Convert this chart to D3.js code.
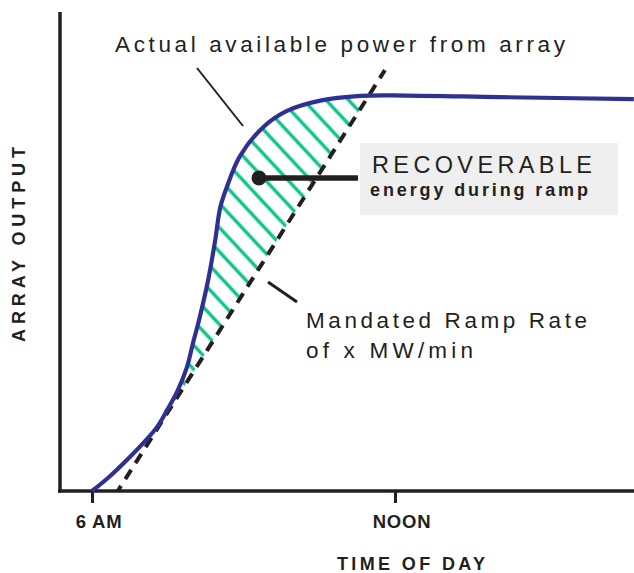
<!DOCTYPE html>
<html>
<head>
<meta charset="utf-8">
<script src="https://cdn.jsdelivr.net/npm/d3@7"></script>
<style>
  body { margin: 0; background: #fff; }
  svg { display: block; font-family: "Liberation Sans", Arial, sans-serif; }
</style>
</head>
<body>
<svg id="chart"></svg>
<script>
// actual available power from the array (hour of day, % output)
var hours  = [6, 6.36, 6.75, 7.05, 7.29, 7.49, 7.70, 7.88, 8.0, 8.12, 8.30, 8.44, 8.54, 8.67, 8.93, 9.39, 9.86, 10.52, 11.31, 12.2, 14.08, 16.73];
var output = [0, 3.8, 8.6, 12.6, 16.2, 20.5, 25.5, 31.3, 37.4, 43.2, 53.3, 63.4, 71.7, 76.8, 84.6, 91.9, 96.0, 98.6, 99.8, 99.9, 99.5, 99.0];

// mandated ramp rate line (start / end)
var rampHours  = [6.51, 11.80];
var rampOutput = [0, 106.3];

// tangent point where the ramp line meets the curve
var tangentOutput = 17;

var tickHours  = [6, 12];
var tickLabels = ["6 AM", "NOON"];

var w = 634, h = 573;

var svg = d3.select("#chart")
  .attr("width", w)
  .attr("height", h);

var xScale = d3.scaleLinear()
  .domain([5.366, 16.733])
  .range([60, 634]);

var yScale = d3.scaleLinear()
  .domain([0, 121])
  .range([491, 12]);

var curveData = hours.map(function(d, i) { return [d, output[i]]; });
var rampData = rampHours.map(function(d, i) { return [d, rampOutput[i]]; });

// where on the ramp line a given output sits
function rampHourAt(v) {
  var t = (v - rampOutput[0]) / (rampOutput[1] - rampOutput[0]);
  return rampHours[0] + t * (rampHours[1] - rampHours[0]);
}

var defs = svg.append("defs");

// hatch pattern
var pat = defs.append("pattern")
  .attr("id", "hatch")
  .attr("patternUnits", "userSpaceOnUse")
  .attr("width", 16.5)
  .attr("height", 16.5)
  .attr("patternTransform", "rotate(47) translate(0,3)");
pat.append("line")
  .attr("x1", -2).attr("y1", 8.25)
  .attr("x2", 19).attr("y2", 8.25)
  .attr("stroke", "#14c48e")
  .attr("stroke-width", 3.5);

// keep hatch on the upper-left side of the ramp line, above the tangent
var topOut = 121;
var clipPts = [
  [rampHourAt(tangentOutput), tangentOutput],
  [rampHourAt(topOut), topOut],
  [5.366, topOut],
  [5.366, tangentOutput]
];
defs.append("clipPath")
  .attr("id", "rampClip")
  .append("path")
  .attr("d", d3.line()
    .x(function(d) { return xScale(d[0]); })
    .y(function(d) { return yScale(d[1]); })(clipPts) + "Z");

var area = d3.area()
  .curve(d3.curveCatmullRom.alpha(0.5))
  .x(function(d) { return xScale(d[0]); })
  .y0(yScale(0))
  .y1(function(d) { return yScale(d[1]); });

svg.append("path")
  .datum(curveData)
  .attr("d", area)
  .attr("fill", "url(#hatch)")
  .attr("clip-path", "url(#rampClip)");

// axes
var xAxis = d3.axisBottom(xScale)
  .tickValues(tickHours)
  .tickFormat(function(d, i) { return tickLabels[i]; })
  .tickSize(12)
  .tickSizeOuter(0);

var gx = svg.append("g")
  .attr("transform", "translate(0," + yScale(0) + ")")
  .call(xAxis);
gx.attr("font-size", null).attr("font-family", null);
gx.select(".domain")
  .attr("d", "M58,0H634")
  .attr("stroke", "#231f20")
  .attr("stroke-width", 3.5);
gx.selectAll(".tick line")
  .attr("stroke", "#231f20")
  .attr("stroke-width", 3);
gx.selectAll(".tick text")
  .attr("y", 37)
  .attr("dy", 0)
  .attr("dx", 6.5)
  .attr("fill", "#231f20")
  .style("font-family", "'Liberation Sans', Arial, sans-serif")
  .style("font-weight", "bold")
  .style("font-size", "18.5px")
  .style("letter-spacing", "0.8px");

svg.append("line")
  .attr("x1", xScale.range()[0]).attr("x2", xScale.range()[0])
  .attr("y1", yScale.range()[1]).attr("y2", yScale(0) + 1.7)
  .attr("stroke", "#231f20")
  .attr("stroke-width", 3.5);

// ramp line
var line = d3.line()
  .x(function(d) { return xScale(d[0]); })
  .y(function(d) { return yScale(d[1]); });

svg.append("path")
  .datum(rampData)
  .attr("d", line)
  .attr("fill", "none")
  .attr("stroke", "#231f20")
  .attr("stroke-width", 4)
  .attr("stroke-dasharray", "11,8")
  .attr("stroke-dashoffset", 5);

// actual power curve
svg.append("path")
  .datum(curveData)
  .attr("d", line.curve(d3.curveCatmullRom.alpha(0.5)))
  .attr("fill", "none")
  .attr("stroke", "#2e3192")
  .attr("stroke-width", 4.2);

// annotations
var ink = "#231f20";

svg.append("text")
  .text("Actual available power from array")
  .attr("x", 115).attr("y", 52)
  .attr("font-size", "22.5px")
  .attr("fill", ink)
  .attr("textLength", 450)
  .attr("lengthAdjust", "spacing");

svg.append("line")
  .attr("x1", 197).attr("y1", 68)
  .attr("x2", 243).attr("y2", 126)
  .attr("stroke", ink)
  .attr("stroke-width", 2);

svg.append("rect")
  .attr("x", 360).attr("y", 143)
  .attr("width", 258).attr("height", 72)
  .attr("fill", "#efefef");

svg.append("line")
  .attr("x1", 259).attr("y1", 178)
  .attr("x2", 358).attr("y2", 178)
  .attr("stroke", ink)
  .attr("stroke-width", 5.5);

svg.append("circle")
  .attr("cx", 259).attr("cy", 178)
  .attr("r", 7.5)
  .attr("fill", ink);

svg.append("text")
  .text("RECOVERABLE")
  .attr("x", 372).attr("y", 173)
  .attr("font-size", "23.5px")
  .attr("fill", ink)
  .attr("textLength", 220)
  .attr("lengthAdjust", "spacing");

svg.append("text")
  .text("energy during ramp")
  .attr("x", 370).attr("y", 196)
  .attr("font-size", "18px")
  .attr("font-weight", "bold")
  .attr("fill", ink)
  .attr("textLength", 218)
  .attr("lengthAdjust", "spacing");

svg.append("line")
  .attr("x1", 268).attr("y1", 282)
  .attr("x2", 297).attr("y2", 302)
  .attr("stroke", ink)
  .attr("stroke-width", 3);

svg.append("text")
  .text("Mandated Ramp Rate")
  .attr("x", 306).attr("y", 328)
  .attr("font-size", "22.5px")
  .attr("fill", ink)
  .attr("textLength", 281)
  .attr("lengthAdjust", "spacing");

svg.append("text")
  .text("of x MW/min")
  .attr("x", 306).attr("y", 358)
  .attr("font-size", "22.5px")
  .attr("fill", ink)
  .attr("textLength", 167)
  .attr("lengthAdjust", "spacing");

// axis titles
svg.append("text")
  .text("ARRAY OUTPUT")
  .attr("transform", "translate(25,342) rotate(-90)")
  .attr("font-size", "18px")
  .attr("font-weight", "bold")
  .attr("fill", ink)
  .attr("textLength", 195)
  .attr("lengthAdjust", "spacing");

svg.append("text")
  .text("TIME OF DAY")
  .attr("x", 337).attr("y", 570)
  .attr("font-size", "18px")
  .attr("font-weight", "bold")
  .attr("fill", ink)
  .attr("textLength", 148)
  .attr("lengthAdjust", "spacing");
</script>
</body>
</html>
